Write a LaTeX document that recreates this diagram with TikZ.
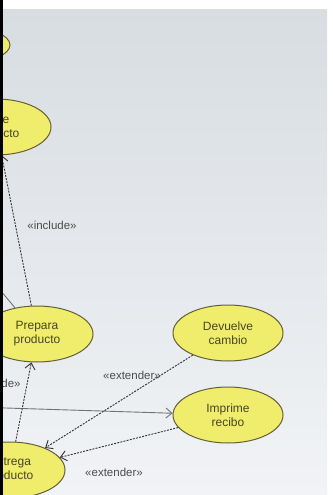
\documentclass[tikz,border=0pt]{standalone}
\usepackage{fontspec}
\setmainfont{Liberation Sans}
\usetikzlibrary{shapes.geometric,arrows.meta}
\definecolor{ucfill}{RGB}{240,236,108}
\definecolor{ucline}{RGB}{100,95,55}
\definecolor{uctext}{RGB}{70,70,40}
\definecolor{bgtop}{RGB}{216,221,225}
\definecolor{bgbot}{RGB}{241,243,246}
\begin{document}
\begin{tikzpicture}[
  x=1pt, y=-1pt,
  uc/.style={ellipse, draw=ucline, fill=ucfill, line width=1pt, minimum width=110pt,
    minimum height=56pt, inner sep=0pt, align=center, text=uctext,
    font=\fontsize{12}{14}\selectfont},
  lbl/.style={text=black!70, font=\fontsize{11.5}{13}\selectfont, inner sep=1pt},
  dep/.style={draw=black!80, line width=0.9pt, dash pattern=on 2pt off 1.2pt,
    -{Straight Barb[length=6pt,width=10pt]}},
  assoc/.style={draw=black!55, line width=0.9pt}
]
\useasboundingbox (0,0) rectangle (332,495);
% background
\fill[white] (0,0) rectangle (332,495);
\fill[black] (0,0) rectangle (3,495);
\shade[top color=bgtop, bottom color=bgbot] (3,10) rectangle (327,495);
\clip (3,10) rectangle (327,495);

% Use cases
\node[uc, minimum width=80pt, minimum height=34pt] (top) at (-30,45) {};
\node[uc] (elige) at (-4,127) {Elige\\producto};
\node[uc, minimum width=112pt] (prepara) at (37,334) {Prepara\\producto};
\node[uc] (devuelve) at (228,333) {Devuelve\\cambio};
\node[uc] (imprime) at (228,415) {Imprime\\recibo};
\node[uc] (entrega) at (10,470) {Entrega\\producto};

% Actor side (off to the left)
\coordinate (cli1) at (-10,278);
\coordinate (cli2) at (-10,407.5);
\draw[assoc] (cli1) -- (prepara);
\draw[assoc, -{Straight Barb[length=6pt,width=10pt]}] (cli2) -- (imprime);

% Relations
\draw[dep] (prepara) -- (elige);
\draw[dep] (entrega) -- (prepara);
\draw[dep] (devuelve) -- (entrega);
\draw[dep] (imprime) -- (entrega);

\node[lbl] (inc1) at (52,225) {«include»};
\node[lbl] (inc2) at (-4,383) {«include»};
\node[lbl] (ext1) at (132,375) {«extender»};
\node[lbl] (ext2) at (114,472) {«extender»};
\end{tikzpicture}
\end{document}
